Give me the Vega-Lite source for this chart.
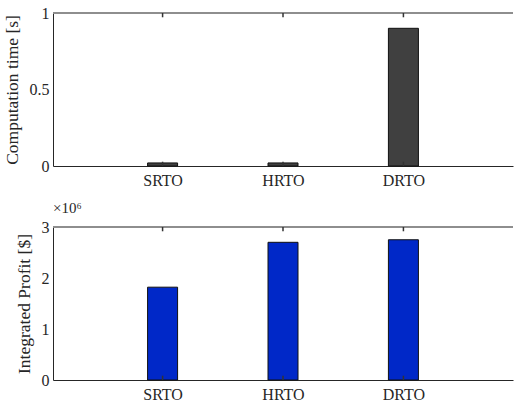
{
  "$schema": "https://vega.github.io/schema/vega-lite/v6.json",
  "padding": {"left": 2, "top": 5, "right": 0, "bottom": 0},
  "spacing": 13,
  "config": {
    "font": "Liberation Serif",
    "view": {"stroke": null},
    "axis": {
      "grid": false,
      "labelFont": "Liberation Serif",
      "titleFont": "Liberation Serif",
      "labelFontSize": 16,
      "titleFontSize": 17.5,
      "titleFontWeight": "normal",
      "labelColor": "#262626",
      "titleColor": "#262626",
      "domainColor": "#262626",
      "ticks": false,
      "tickSize": 0,
      "labelAngle": 0
    }
  },
  "datasets": {
    "time": [
      {"method": "SRTO", "time": 0.02},
      {"method": "HRTO", "time": 0.02},
      {"method": "DRTO", "time": 0.9}
    ],
    "profit": [
      {"method": "SRTO", "profit": 1820000},
      {"method": "HRTO", "profit": 2700000},
      {"method": "DRTO", "profit": 2750000}
    ]
  },
  "vconcat": [
    {
      "width": 460,
      "height": 153,
      "data": {"name": "time"},
      "layer": [
        {
          "mark": {"type": "bar", "size": 30, "color": "#404040", "stroke": "#111111", "strokeWidth": 1},
          "encoding": {
            "x": {
              "field": "method", "type": "ordinal", "sort": ["SRTO", "HRTO", "DRTO"],
              "scale": {"type": "point", "padding": 0.91},
              "axis": {"title": null, "labelPadding": 6}
            },
            "y": {
              "field": "time", "type": "quantitative",
              "scale": {"domain": [0, 1], "nice": false},
              "axis": {"title": "Computation time [s]", "values": [0, 0.5, 1], "format": "~g", "labelPadding": 4, "titlePadding": 8}
            }
          }
        },
        {
          "mark": {"type": "rule", "color": "#8c8c8c", "strokeWidth": 1.5},
          "encoding": {"y": {"datum": 1}}
        },
        {
          "mark": {"type": "rule", "color": "#333333", "strokeWidth": 1.5},
          "encoding": {
            "x": {"field": "method", "type": "ordinal", "sort": ["SRTO", "HRTO", "DRTO"]},
            "y": {"datum": 1}, "y2": {"datum": 0.972}
          }
        },
        {
          "mark": {"type": "rule", "color": "#333333", "strokeWidth": 1.5},
          "encoding": {
            "x": {"field": "method", "type": "ordinal", "sort": ["SRTO", "HRTO", "DRTO"]},
            "y": {"datum": 0}, "y2": {"datum": 0.028}
          }
        }
      ]
    },
    {
      "width": 460,
      "height": 153,
      "title": {"text": "×10⁶", "anchor": "start", "frame": "group", "font": "Liberation Serif", "fontSize": 15, "fontWeight": "normal", "color": "#262626", "offset": 3},
      "data": {"name": "profit"},
      "layer": [
        {
          "mark": {"type": "bar", "size": 30, "color": "#0028C8", "stroke": "#111111", "strokeWidth": 1},
          "encoding": {
            "x": {
              "field": "method", "type": "ordinal", "sort": ["SRTO", "HRTO", "DRTO"],
              "scale": {"type": "point", "padding": 0.91},
              "axis": {"title": null, "labelPadding": 6}
            },
            "y": {
              "field": "profit", "type": "quantitative",
              "scale": {"domain": [0, 3000000], "nice": false},
              "axis": {"title": "Integrated Profit [$]", "values": [0, 1000000, 2000000, 3000000], "labelExpr": "datum.value / 1000000", "labelPadding": 4, "titlePadding": 8}
            }
          }
        },
        {
          "mark": {"type": "rule", "color": "#8c8c8c", "strokeWidth": 1.5},
          "encoding": {"y": {"datum": 3000000}}
        },
        {
          "mark": {"type": "rule", "color": "#333333", "strokeWidth": 1.5},
          "encoding": {
            "x": {"field": "method", "type": "ordinal", "sort": ["SRTO", "HRTO", "DRTO"]},
            "y": {"datum": 3000000}, "y2": {"datum": 2916000}
          }
        },
        {
          "mark": {"type": "rule", "color": "#333333", "strokeWidth": 1.5},
          "encoding": {
            "x": {"field": "method", "type": "ordinal", "sort": ["SRTO", "HRTO", "DRTO"]},
            "y": {"datum": 0}, "y2": {"datum": 84000}
          }
        }
      ]
    }
  ]
}
